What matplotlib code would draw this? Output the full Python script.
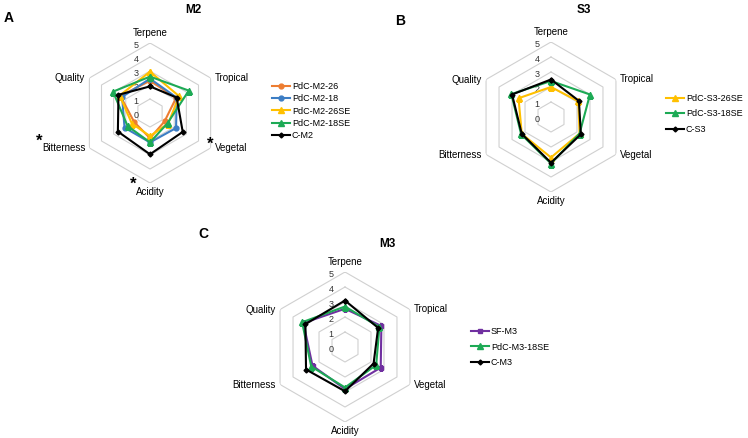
import numpy as np
import matplotlib
matplotlib.use("Agg")
import matplotlib.pyplot as plt

plt.rcParams["font.family"] = ["Liberation Sans", "DejaVu Sans"]

W, H = 748, 438

# sensory attributes (clockwise from top)
categories = ["Terpene", "Tropical", "Vegetal", "Acidity", "Bitterness", "Quality"]
r_ticks = [0, 1, 2, 3, 4, 5]

# panel A - M2
m2_labels = ["PdC-M2-26", "PdC-M2-18", "PdC-M2-26SE", "PdC-M2-18SE", "C-M2"]
pdc_m2_26 = [2.3, 2.15, 1.2, 1.8, 1.3, 2.45]
pdc_m2_18 = [2.45, 2.2, 2.15, 2.1, 2.1, 2.3]
pdc_m2_26se = [2.95, 2.4, 1.5, 1.65, 1.5, 2.5]
pdc_m2_18se = [2.6, 3.2, 1.45, 2.1, 1.85, 3.05]
c_m2 = [1.9, 2.2, 2.7, 2.95, 2.65, 2.6]

# panel B - S3
s3_labels = ["PdC-S3-26SE", "PdC-S3-18SE", "C-S3"]
pdc_s3_26se = [2.0, 2.1, 2.2, 2.7, 2.25, 2.5]
pdc_s3_18se = [2.4, 3.0, 2.2, 3.1, 2.3, 3.05]
c_s3 = [2.5, 2.15, 2.3, 3.05, 2.25, 3.0]

# panel C - M3
m3_labels = ["SF-M3", "PdC-M3-18SE", "C-M3"]
sf_m3 = [2.55, 2.8, 2.75, 2.8, 2.5, 3.2]
pdc_m3_18se = [2.7, 2.65, 2.4, 2.7, 2.6, 3.3]
c_m3 = [3.1, 2.55, 2.2, 2.95, 3.0, 3.05]

ORANGE = "#ED7D31"
BLUE = "#3C7DC4"
YELLOW = "#FFC000"
GREEN = "#1DAA55"
BLACK = "#000000"
PURPLE = "#7030A0"

theta = np.linspace(0, 2 * np.pi, len(categories), endpoint=False)


def closed(v):
    return np.append(v, v[0])


def fx(x):
    return x / W


def fy(y):
    return 1 - y / H


def radar(cx, cy, R):
    ax = fig.add_axes([fx(cx - R), fy(cy + R), 2 * R / W, 2 * R / H], projection="polar")
    ax.set_theta_zero_location("N")
    ax.set_theta_direction(-1)
    ax.set_ylim(0, 5)
    ax.axis("off")
    # hexagonal grid
    for r in r_ticks[1:]:
        ax.plot(closed(theta), [r] * (len(theta) + 1), color="#d0d0d0", lw=0.8, zorder=1)
    for r in r_ticks:
        ax.annotate(str(r), (0, r), xytext=(-10, -1.5), textcoords="offset points",
                    ha="center", va="center", fontsize=6.5, color="#333333")
    offsets = [(0, 3.5, "center", "bottom"), (3, 0, "left", "center"), (3, 0, "left", "center"),
               (0, -3, "center", "top"), (-3, 0, "right", "center"), (-3, 0, "right", "center")]
    for t, name, (dx, dy, ha, va) in zip(theta, categories, offsets):
        ax.annotate(name, (t, 5), xytext=(dx, dy), textcoords="offset points",
                    ha=ha, va=va, fontsize=7)
    return ax


def series(ax, vals, color, marker, ms, label):
    ax.plot(closed(theta), closed(vals), color=color, lw=1.5, marker=marker,
            ms=ms, label=label, zorder=3)


fig = plt.figure(figsize=(W / 100, H / 100), dpi=100)

# A
axA = radar(150, 113, 70)
series(axA, pdc_m2_26, ORANGE, "o", 3.5, m2_labels[0])
series(axA, pdc_m2_18, BLUE, "o", 3.5, m2_labels[1])
series(axA, pdc_m2_26se, YELLOW, "^", 4, m2_labels[2])
series(axA, pdc_m2_18se, GREEN, "^", 4, m2_labels[3])
series(axA, c_m2, BLACK, "D", 2.5, m2_labels[4])
axA.legend(loc="center left", bbox_to_anchor=(fx(272), fy(111)), bbox_transform=fig.transFigure,
           frameon=False, fontsize=6.5, handlelength=2.0, handletextpad=0.2,
           labelspacing=0.35, borderpad=0, borderaxespad=0)
fig.text(fx(193), fy(10), "M2", fontsize=8.5, fontweight="bold", ha="center", va="center")
fig.text(fx(9), fy(18), "A", fontsize=10, fontweight="bold", ha="center", va="center")
for x, y in [(39, 141), (210, 144), (133, 184)]:
    fig.text(fx(x), fy(y), "*", fontsize=12, fontweight="bold", ha="center", va="center")

# B
axB = radar(551, 117, 75)
series(axB, pdc_s3_26se, YELLOW, "^", 4, s3_labels[0])
series(axB, pdc_s3_18se, GREEN, "^", 4, s3_labels[1])
series(axB, c_s3, BLACK, "D", 2.5, s3_labels[2])
axB.legend(loc="center left", bbox_to_anchor=(fx(666), fy(114)), bbox_transform=fig.transFigure,
           frameon=False, fontsize=6.5, handlelength=2.0, handletextpad=0.2,
           labelspacing=0.75, borderpad=0, borderaxespad=0)
fig.text(fx(584), fy(10), "S3", fontsize=8.5, fontweight="bold", ha="center", va="center")
fig.text(fx(400), fy(21), "B", fontsize=10, fontweight="bold", ha="center", va="center")

# C
axC = radar(345, 347, 75)
series(axC, sf_m3, PURPLE, "s", 3.5, m3_labels[0])
series(axC, pdc_m3_18se, GREEN, "^", 4, m3_labels[1])
series(axC, c_m3, BLACK, "D", 2.5, m3_labels[2])
axC.legend(loc="center left", bbox_to_anchor=(fx(471), fy(347)), bbox_transform=fig.transFigure,
           frameon=False, fontsize=6.5, handlelength=2.0, handletextpad=0.2,
           labelspacing=0.7, borderpad=0, borderaxespad=0)
fig.text(fx(387), fy(244), "M3", fontsize=8.5, fontweight="bold", ha="center", va="center")
fig.text(fx(203), fy(234), "C", fontsize=10, fontweight="bold", ha="center", va="center")

fig.savefig("out.png", dpi=100)
